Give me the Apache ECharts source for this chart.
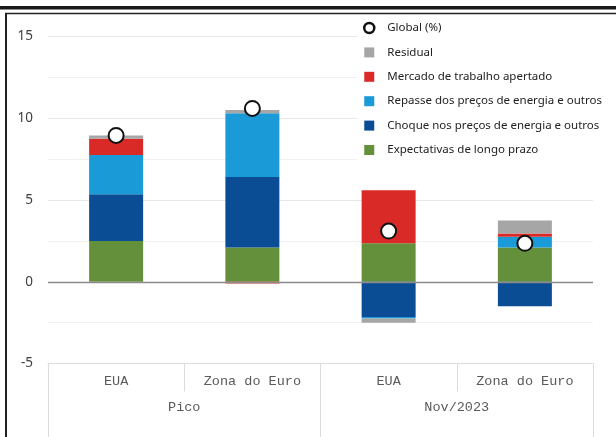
<!DOCTYPE html>
<html>
<head>
<meta charset="utf-8">
<script src="https://cdn.jsdelivr.net/npm/echarts@6/dist/echarts.min.js"></script>
<style>
  html, body { margin: 0; padding: 0; background: #fff; }
  #chart { width: 616px; height: 437px; }
</style>
</head>
<body>
<div id="chart"></div>
<script>
// categories (two-level axis)
const countries = ['EUA', 'Zona do Euro', 'EUA', 'Zona do Euro'];
const periods = ['Pico', 'Nov/2023'];

// contributions, p.p.
const expectativas = [2.5, 2.1, 2.35, 2.1];
const choque = [2.85, 4.3, -2.15, -1.5];
const repasse = [2.4, 3.9, -0.1, 0.65];
const mercado = [1.0, -0.1, 3.25, 0.2];
const residual = [0.2, 0.2, -0.25, 0.8];
const global = [8.95, 10.6, 3.1, 2.35];

const yTicks = [-5, 0, 5, 10, 15];

const sansFont = "'Noto Sans', 'Open Sans', sans-serif";
const monoFont = "'Liberation Mono', 'DejaVu Sans Mono', monospace";
const tableLine = '#dcdcdc';

function bar(name, values, color, extra) {
    return Object.assign({
        name: name,
        type: 'bar',
        stack: 'total',
        barWidth: 54,
        data: values,
        itemStyle: {color: color},
        emphasis: {disabled: true}
    }, extra || {});
}

const chart = echarts.init(document.getElementById('chart'), null, {renderer: 'canvas'});

chart.setOption({
    animation: false,
    backgroundColor: '#fff',
    grid: {left: 48, right: 23, top: 36.5, bottom: 73.5},
    legend: {
        orient: 'vertical',
        left: 357,
        top: 16,
        padding: [5, 6, 5, 6],
        backgroundColor: '#fff',
        itemWidth: 10,
        itemHeight: 10,
        itemGap: 10.4,
        data: [
            {name: 'Global (%)', icon: 'circle', itemStyle: {color: '#fff', borderColor: '#111', borderWidth: 2.5, opacity: 1}},
            {name: 'Residual', icon: 'rect'},
            {name: 'Mercado de trabalho apertado', icon: 'rect'},
            {name: 'Repasse dos preços de energia e outros', icon: 'rect'},
            {name: 'Choque nos preços de energia e outros', icon: 'rect'},
            {name: 'Expectativas de longo prazo', icon: 'rect'}
        ],
        textStyle: {
            color: '#222',
            fontFamily: sansFont,
            fontSize: 11.5,
            lineHeight: 14,
            padding: [0, 0, 0, 8]
        }
    },
    xAxis: [
        {
            type: 'category',
            data: countries,
            position: 'bottom',
            axisLine: {show: true, onZero: false, lineStyle: {color: tableLine, width: 1}},
            axisTick: {show: true, length: 28, lineStyle: {color: tableLine}},
            axisLabel: {color: '#5a5a5a', fontFamily: monoFont, fontSize: 13.5, margin: 11},
            splitLine: {show: false}
        },
        {
            type: 'category',
            data: periods,
            position: 'bottom',
            axisLine: {show: false, onZero: false},
            axisTick: {show: true, length: 74, lineStyle: {color: tableLine}},
            axisLabel: {color: '#5a5a5a', fontFamily: monoFont, fontSize: 13.5, margin: 37},
            splitLine: {show: false}
        }
    ],
    yAxis: {
        type: 'value',
        min: yTicks[0],
        max: yTicks[yTicks.length - 1],
        interval: 5,
        axisLine: {show: false},
        axisTick: {show: false},
        axisLabel: {color: '#404040', fontFamily: sansFont, fontSize: 13.5, margin: 15},
        splitLine: {lineStyle: {color: '#e8e8e8', width: 1}},
        minorTick: {show: false, splitNumber: 2},
        minorSplitLine: {show: true, lineStyle: {color: '#f1f1f1', width: 1}}
    },
    series: [
        bar('Expectativas de longo prazo', expectativas, '#64903b', {
            markLine: {
                silent: true,
                symbol: 'none',
                label: {show: false},
                lineStyle: {color: '#8a8a8a', width: 1.3, type: 'solid'},
                data: [{yAxis: 0}]
            }
        }),
        bar('Choque nos preços de energia e outros', choque, '#0b4d94'),
        bar('Repasse dos preços de energia e outros', repasse, '#1a9bd7'),
        bar('Mercado de trabalho apertado', mercado, '#d92a27'),
        bar('Residual', residual, '#a6a6a6'),
        {
            name: 'Global (%)',
            type: 'scatter',
            data: global,
            symbol: 'circle',
            symbolSize: 15,
            z: 10,
            itemStyle: {color: '#fff', borderColor: '#111', borderWidth: 2, opacity: 1},
            emphasis: {disabled: true}
        }
    ],
    graphic: [
        {type: 'rect', shape: {x: 0, y: 6, width: 616, height: 3.5}, style: {fill: '#1a1a1a'}, z: 100},
        {type: 'line', shape: {x1: 5, y1: 13.5, x2: 616, y2: 13.5}, style: {stroke: '#222', lineWidth: 1.5}, z: 100},
        {type: 'line', shape: {x1: 6, y1: 13, x2: 6, y2: 437}, style: {stroke: '#222', lineWidth: 2}, z: 100}
    ]
});
</script>
</body>
</html>
